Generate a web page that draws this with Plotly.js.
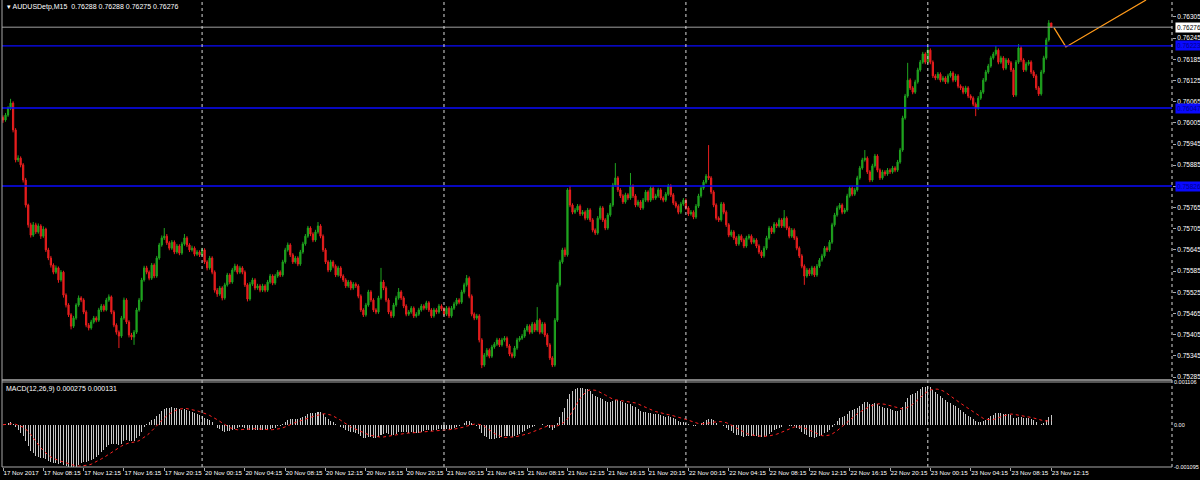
<!DOCTYPE html>
<html><head><meta charset="utf-8">
<script src="https://cdn.plot.ly/plotly-3.0.1.min.js"></script>
<style>html,body{margin:0;padding:0;background:#000;}#chart{width:1200px;height:480px;}</style>
</head><body><div id="chart"></div>
<script>
const symbol = 'AUDUSDetp,M15';
// M15 bars, 17 Nov 2017 04:15 .. 23 Nov 2017 12:15 (bar number = position)
const open = [
0.76020,0.76013,0.76027,0.76047,0.76061,0.75985,0.75900,0.75905,0.75886,0.75843,
0.75772,0.75716,0.75687,0.75716,0.75696,0.75713,0.75684,0.75704,0.75645,0.75622,
0.75602,0.75582,0.75594,0.75560,0.75582,0.75517,0.75489,0.75461,0.75429,0.75452,
0.75489,0.75509,0.75503,0.75469,0.75432,0.75424,0.75441,0.75452,0.75446,0.75475,
0.75486,0.75475,0.75503,0.75512,0.75469,0.75432,0.75412,0.75401,0.75452,0.75503,
0.75441,0.75404,0.75398,0.75412,0.75475,0.75503,0.75560,0.75594,0.75582,0.75565,
0.75602,0.75571,0.75622,0.75659,0.75679,0.75684,0.75665,0.75650,0.75667,0.75639,
0.75656,0.75636,0.75662,0.75679,0.75659,0.75645,0.75650,0.75633,0.75639,0.75631,
0.75645,0.75611,0.75594,0.75622,0.75582,0.75531,0.75520,0.75537,0.75509,0.75546,
0.75574,0.75554,0.75588,0.75599,0.75582,0.75594,0.75582,0.75546,0.75506,0.75548,
0.75560,0.75537,0.75543,0.75531,0.75543,0.75531,0.75554,0.75571,0.75551,0.75571,
0.75582,0.75574,0.75611,0.75645,0.75659,0.75631,0.75611,0.75622,0.75605,0.75639,
0.75662,0.75684,0.75707,0.75690,0.75673,0.75696,0.75713,0.75684,0.75645,0.75611,
0.75588,0.75611,0.75599,0.75574,0.75594,0.75571,0.75560,0.75543,0.75554,0.75537,
0.75548,0.75543,0.75514,0.75475,0.75461,0.75489,0.75526,0.75503,0.75475,0.75469,
0.75509,0.75554,0.75537,0.75503,0.75469,0.75458,0.75489,0.75509,0.75526,0.75509,
0.75486,0.75463,0.75469,0.75480,0.75458,0.75463,0.75475,0.75486,0.75480,0.75495,
0.75475,0.75458,0.75475,0.75469,0.75486,0.75478,0.75463,0.75480,0.75458,0.75480,
0.75492,0.75503,0.75497,0.75526,0.75546,0.75565,0.75514,0.75463,0.75452,0.75458,
0.75390,0.75319,0.75347,0.75361,0.75344,0.75370,0.75378,0.75390,0.75376,0.75390,
0.75395,0.75373,0.75350,0.75344,0.75367,0.75390,0.75395,0.75401,0.75418,0.75429,
0.75412,0.75435,0.75418,0.75446,0.75412,0.75435,0.75404,0.75376,0.75339,0.75319,
0.75446,0.75546,0.75611,0.75645,0.75631,0.75815,0.75772,0.75752,0.75758,0.75769,
0.75747,0.75752,0.75735,0.75758,0.75730,0.75701,0.75693,0.75735,0.75764,0.75730,
0.75707,0.75744,0.75772,0.75829,0.75849,0.75815,0.75798,0.75781,0.75801,0.75792,
0.75826,0.75798,0.75772,0.75781,0.75764,0.75786,0.75809,0.75786,0.75820,0.75792,
0.75798,0.75815,0.75792,0.75786,0.75803,0.75826,0.75801,0.75778,0.75769,0.75752,
0.75775,0.75786,0.75764,0.75747,0.75752,0.75738,0.75769,0.75798,0.75820,0.75837,
0.75854,0.75849,0.75809,0.75772,0.75735,0.75730,0.75775,0.75752,0.75716,0.75687,
0.75696,0.75679,0.75662,0.75684,0.75673,0.75656,0.75679,0.75684,0.75667,0.75673,
0.75656,0.75639,0.75628,0.75650,0.75679,0.75707,0.75696,0.75718,0.75713,0.75730,
0.75713,0.75735,0.75707,0.75684,0.75701,0.75679,0.75650,0.75628,0.75599,0.75571,
0.75588,0.75577,0.75594,0.75574,0.75599,0.75616,0.75628,0.75650,0.75645,0.75667,
0.75716,0.75744,0.75764,0.75772,0.75752,0.75758,0.75798,0.75820,0.75803,0.75815,
0.75849,0.75877,0.75900,0.75905,0.75866,0.75843,0.75883,0.75911,0.75871,0.75849,
0.75866,0.75860,0.75871,0.75866,0.75877,0.75871,0.75894,0.75928,0.76019,0.76081,
0.76126,0.76104,0.76092,0.76121,0.76155,0.76177,0.76200,0.76177,0.76211,0.76177,
0.76138,0.76132,0.76143,0.76126,0.76132,0.76121,0.76138,0.76146,0.76126,0.76138,
0.76109,0.76104,0.76092,0.76104,0.76081,0.76075,0.76058,0.76047,0.76075,0.76092,
0.76126,0.76149,0.76166,0.76189,0.76200,0.76211,0.76177,0.76189,0.76160,0.76183,
0.76175,0.76155,0.76084,0.76177,0.76217,0.76183,0.76155,0.76172,0.76177,0.76149,
0.76138,0.76104,0.76087,0.76149,0.76189,0.76240,0.76288];
const high = [
0.76026,0.76033,0.76052,0.76073,0.76066,0.75990,0.75913,0.75910,0.75891,0.75849,
0.75776,0.75722,0.75724,0.75722,0.75720,0.75718,0.75712,0.75708,0.75651,0.75628,
0.75607,0.75601,0.75598,0.75588,0.75586,0.75522,0.75494,0.75466,0.75458,0.75494,
0.75516,0.75514,0.75508,0.75474,0.75438,0.75447,0.75458,0.75457,0.75481,0.75492,
0.75491,0.75509,0.75519,0.75516,0.75474,0.75437,0.75417,0.75458,0.75510,0.75508,
0.75446,0.75410,0.75418,0.75481,0.75509,0.75566,0.75600,0.75600,0.75587,0.75608,
0.75607,0.75628,0.75665,0.75686,0.75707,0.75690,0.75670,0.75673,0.75672,0.75662,
0.75661,0.75668,0.75690,0.75684,0.75664,0.75657,0.75655,0.75645,0.75644,0.75651,
0.75650,0.75616,0.75628,0.75627,0.75587,0.75537,0.75543,0.75542,0.75552,0.75580,
0.75579,0.75594,0.75606,0.75604,0.75600,0.75599,0.75587,0.75551,0.75554,0.75566,
0.75565,0.75549,0.75548,0.75549,0.75548,0.75560,0.75577,0.75576,0.75577,0.75588,
0.75587,0.75617,0.75651,0.75666,0.75664,0.75636,0.75628,0.75627,0.75645,0.75668,
0.75690,0.75713,0.75712,0.75695,0.75702,0.75724,0.75718,0.75689,0.75650,0.75616,
0.75617,0.75616,0.75604,0.75600,0.75599,0.75576,0.75565,0.75560,0.75559,0.75554,
0.75553,0.75548,0.75519,0.75480,0.75495,0.75532,0.75531,0.75508,0.75480,0.75515,
0.75594,0.75560,0.75542,0.75508,0.75474,0.75495,0.75515,0.75537,0.75531,0.75514,
0.75491,0.75475,0.75486,0.75485,0.75469,0.75481,0.75492,0.75491,0.75501,0.75500,
0.75480,0.75481,0.75480,0.75492,0.75491,0.75483,0.75486,0.75485,0.75486,0.75498,
0.75509,0.75508,0.75532,0.75552,0.75574,0.75570,0.75519,0.75468,0.75464,0.75463,
0.75395,0.75353,0.75367,0.75366,0.75376,0.75384,0.75396,0.75395,0.75396,0.75401,
0.75400,0.75378,0.75355,0.75373,0.75396,0.75401,0.75407,0.75424,0.75435,0.75434,
0.75441,0.75440,0.75483,0.75451,0.75441,0.75440,0.75409,0.75381,0.75344,0.75452,
0.75552,0.75617,0.75651,0.75652,0.75820,0.75826,0.75777,0.75764,0.75775,0.75774,
0.75758,0.75757,0.75764,0.75763,0.75735,0.75706,0.75741,0.75770,0.75769,0.75735,
0.75750,0.75778,0.75835,0.75891,0.75854,0.75820,0.75803,0.75807,0.75806,0.75863,
0.75831,0.75803,0.75787,0.75786,0.75792,0.75815,0.75814,0.75826,0.75825,0.75804,
0.75821,0.75820,0.75797,0.75809,0.75832,0.75831,0.75806,0.75783,0.75774,0.75781,
0.75792,0.75791,0.75769,0.75758,0.75757,0.75775,0.75804,0.75826,0.75843,0.75860,
0.75942,0.75854,0.75814,0.75777,0.75740,0.75781,0.75780,0.75757,0.75721,0.75702,
0.75701,0.75684,0.75690,0.75689,0.75678,0.75685,0.75690,0.75689,0.75679,0.75678,
0.75661,0.75644,0.75656,0.75685,0.75713,0.75712,0.75724,0.75723,0.75736,0.75735,
0.75758,0.75740,0.75712,0.75707,0.75706,0.75684,0.75655,0.75633,0.75604,0.75594,
0.75593,0.75600,0.75599,0.75605,0.75622,0.75634,0.75656,0.75655,0.75673,0.75722,
0.75750,0.75770,0.75778,0.75777,0.75764,0.75804,0.75826,0.75825,0.75821,0.75855,
0.75883,0.75906,0.75928,0.75910,0.75871,0.75889,0.75917,0.75916,0.75876,0.75872,
0.75871,0.75877,0.75876,0.75883,0.75882,0.75900,0.75934,0.76025,0.76087,0.76175,
0.76131,0.76109,0.76127,0.76161,0.76183,0.76206,0.76205,0.76223,0.76216,0.76182,
0.76143,0.76149,0.76148,0.76138,0.76137,0.76144,0.76152,0.76151,0.76144,0.76143,
0.76114,0.76109,0.76110,0.76109,0.76086,0.76080,0.76063,0.76081,0.76098,0.76132,
0.76155,0.76172,0.76195,0.76206,0.76223,0.76216,0.76195,0.76194,0.76189,0.76188,
0.76180,0.76160,0.76183,0.76228,0.76222,0.76188,0.76178,0.76183,0.76182,0.76154,
0.76143,0.76109,0.76155,0.76195,0.76246,0.76296,0.76288];
const low = [
0.76005,0.76008,0.76022,0.76041,0.75978,0.75893,0.75894,0.75879,0.75836,0.75765,
0.75708,0.75680,0.75682,0.75690,0.75691,0.75676,0.75679,0.75639,0.75616,0.75595,
0.75576,0.75577,0.75552,0.75555,0.75510,0.75482,0.75455,0.75420,0.75424,0.75447,
0.75484,0.75497,0.75463,0.75426,0.75417,0.75419,0.75436,0.75440,0.75441,0.75469,
0.75470,0.75471,0.75498,0.75463,0.75426,0.75405,0.75367,0.75396,0.75447,0.75435,
0.75397,0.75390,0.75376,0.75407,0.75470,0.75498,0.75555,0.75576,0.75559,0.75560,
0.75565,0.75566,0.75617,0.75654,0.75673,0.75659,0.75644,0.75645,0.75633,0.75634,
0.75630,0.75631,0.75657,0.75653,0.75639,0.75640,0.75627,0.75628,0.75625,0.75626,
0.75605,0.75587,0.75589,0.75576,0.75524,0.75512,0.75515,0.75502,0.75504,0.75541,
0.75548,0.75549,0.75583,0.75576,0.75577,0.75576,0.75540,0.75499,0.75501,0.75543,
0.75531,0.75532,0.75525,0.75526,0.75525,0.75526,0.75549,0.75545,0.75546,0.75566,
0.75568,0.75569,0.75606,0.75640,0.75625,0.75605,0.75606,0.75599,0.75600,0.75634,
0.75657,0.75679,0.75684,0.75667,0.75668,0.75691,0.75678,0.75639,0.75605,0.75582,
0.75583,0.75593,0.75568,0.75569,0.75565,0.75554,0.75537,0.75538,0.75531,0.75532,
0.75537,0.75508,0.75469,0.75455,0.75456,0.75484,0.75497,0.75469,0.75463,0.75464,
0.75504,0.75531,0.75497,0.75463,0.75452,0.75453,0.75484,0.75504,0.75503,0.75480,
0.75457,0.75458,0.75464,0.75452,0.75453,0.75458,0.75470,0.75474,0.75475,0.75469,
0.75452,0.75453,0.75463,0.75464,0.75472,0.75457,0.75458,0.75452,0.75453,0.75475,
0.75487,0.75491,0.75492,0.75521,0.75541,0.75508,0.75457,0.75446,0.75447,0.75383,
0.75310,0.75314,0.75342,0.75338,0.75339,0.75365,0.75373,0.75370,0.75371,0.75385,
0.75367,0.75344,0.75338,0.75339,0.75362,0.75385,0.75390,0.75396,0.75413,0.75406,
0.75407,0.75412,0.75413,0.75406,0.75407,0.75398,0.75370,0.75333,0.75313,0.75314,
0.75441,0.75541,0.75606,0.75625,0.75626,0.75766,0.75746,0.75747,0.75753,0.75741,
0.75742,0.75729,0.75730,0.75724,0.75695,0.75687,0.75688,0.75730,0.75724,0.75701,
0.75702,0.75739,0.75767,0.75824,0.75809,0.75792,0.75775,0.75776,0.75786,0.75787,
0.75792,0.75766,0.75767,0.75758,0.75759,0.75781,0.75780,0.75781,0.75786,0.75787,
0.75793,0.75786,0.75780,0.75781,0.75798,0.75795,0.75772,0.75763,0.75746,0.75747,
0.75770,0.75758,0.75741,0.75742,0.75732,0.75733,0.75764,0.75793,0.75815,0.75832,
0.75843,0.75803,0.75766,0.75729,0.75724,0.75725,0.75746,0.75710,0.75681,0.75682,
0.75673,0.75656,0.75657,0.75667,0.75650,0.75651,0.75674,0.75661,0.75662,0.75650,
0.75633,0.75622,0.75623,0.75645,0.75674,0.75690,0.75691,0.75707,0.75708,0.75707,
0.75708,0.75701,0.75678,0.75679,0.75673,0.75644,0.75622,0.75593,0.75546,0.75566,
0.75571,0.75572,0.75568,0.75569,0.75594,0.75611,0.75623,0.75639,0.75640,0.75662,
0.75711,0.75739,0.75759,0.75746,0.75747,0.75753,0.75793,0.75797,0.75798,0.75810,
0.75844,0.75872,0.75895,0.75860,0.75837,0.75838,0.75878,0.75865,0.75843,0.75844,
0.75854,0.75855,0.75860,0.75861,0.75865,0.75866,0.75889,0.75923,0.76014,0.76076,
0.76098,0.76086,0.76087,0.76116,0.76150,0.76172,0.76171,0.76172,0.76171,0.76132,
0.76126,0.76127,0.76120,0.76121,0.76115,0.76116,0.76133,0.76120,0.76121,0.76103,
0.76098,0.76086,0.76087,0.76075,0.76069,0.76052,0.76024,0.76042,0.76070,0.76087,
0.76121,0.76144,0.76161,0.76184,0.76195,0.76171,0.76172,0.76154,0.76155,0.76169,
0.76149,0.76078,0.76079,0.76172,0.76177,0.76149,0.76150,0.76167,0.76143,0.76132,
0.76098,0.76081,0.76082,0.76144,0.76184,0.76235,0.76275];
const close = [
0.76013,0.76027,0.76047,0.76061,0.75985,0.75900,0.75905,0.75886,0.75843,0.75772,
0.75716,0.75687,0.75716,0.75696,0.75713,0.75684,0.75704,0.75645,0.75622,0.75602,
0.75582,0.75594,0.75560,0.75582,0.75517,0.75489,0.75461,0.75429,0.75452,0.75489,
0.75509,0.75503,0.75469,0.75432,0.75424,0.75441,0.75452,0.75446,0.75475,0.75486,
0.75475,0.75503,0.75512,0.75469,0.75432,0.75412,0.75401,0.75452,0.75503,0.75441,
0.75404,0.75398,0.75412,0.75475,0.75503,0.75560,0.75594,0.75582,0.75565,0.75602,
0.75571,0.75622,0.75659,0.75679,0.75684,0.75665,0.75650,0.75667,0.75639,0.75656,
0.75636,0.75662,0.75679,0.75659,0.75645,0.75650,0.75633,0.75639,0.75631,0.75645,
0.75611,0.75594,0.75622,0.75582,0.75531,0.75520,0.75537,0.75509,0.75546,0.75574,
0.75554,0.75588,0.75599,0.75582,0.75594,0.75582,0.75546,0.75506,0.75548,0.75560,
0.75537,0.75543,0.75531,0.75543,0.75531,0.75554,0.75571,0.75551,0.75571,0.75582,
0.75574,0.75611,0.75645,0.75659,0.75631,0.75611,0.75622,0.75605,0.75639,0.75662,
0.75684,0.75707,0.75690,0.75673,0.75696,0.75713,0.75684,0.75645,0.75611,0.75588,
0.75611,0.75599,0.75574,0.75594,0.75571,0.75560,0.75543,0.75554,0.75537,0.75548,
0.75543,0.75514,0.75475,0.75461,0.75489,0.75526,0.75503,0.75475,0.75469,0.75509,
0.75554,0.75537,0.75503,0.75469,0.75458,0.75489,0.75509,0.75526,0.75509,0.75486,
0.75463,0.75469,0.75480,0.75458,0.75463,0.75475,0.75486,0.75480,0.75495,0.75475,
0.75458,0.75475,0.75469,0.75486,0.75478,0.75463,0.75480,0.75458,0.75480,0.75492,
0.75503,0.75497,0.75526,0.75546,0.75565,0.75514,0.75463,0.75452,0.75458,0.75390,
0.75319,0.75347,0.75361,0.75344,0.75370,0.75378,0.75390,0.75376,0.75390,0.75395,
0.75373,0.75350,0.75344,0.75367,0.75390,0.75395,0.75401,0.75418,0.75429,0.75412,
0.75435,0.75418,0.75446,0.75412,0.75435,0.75404,0.75376,0.75339,0.75319,0.75446,
0.75546,0.75611,0.75645,0.75631,0.75815,0.75772,0.75752,0.75758,0.75769,0.75747,
0.75752,0.75735,0.75758,0.75730,0.75701,0.75693,0.75735,0.75764,0.75730,0.75707,
0.75744,0.75772,0.75829,0.75849,0.75815,0.75798,0.75781,0.75801,0.75792,0.75826,
0.75798,0.75772,0.75781,0.75764,0.75786,0.75809,0.75786,0.75820,0.75792,0.75798,
0.75815,0.75792,0.75786,0.75803,0.75826,0.75801,0.75778,0.75769,0.75752,0.75775,
0.75786,0.75764,0.75747,0.75752,0.75738,0.75769,0.75798,0.75820,0.75837,0.75854,
0.75849,0.75809,0.75772,0.75735,0.75730,0.75775,0.75752,0.75716,0.75687,0.75696,
0.75679,0.75662,0.75684,0.75673,0.75656,0.75679,0.75684,0.75667,0.75673,0.75656,
0.75639,0.75628,0.75650,0.75679,0.75707,0.75696,0.75718,0.75713,0.75730,0.75713,
0.75735,0.75707,0.75684,0.75701,0.75679,0.75650,0.75628,0.75599,0.75571,0.75588,
0.75577,0.75594,0.75574,0.75599,0.75616,0.75628,0.75650,0.75645,0.75667,0.75716,
0.75744,0.75764,0.75772,0.75752,0.75758,0.75798,0.75820,0.75803,0.75815,0.75849,
0.75877,0.75900,0.75905,0.75866,0.75843,0.75883,0.75911,0.75871,0.75849,0.75866,
0.75860,0.75871,0.75866,0.75877,0.75871,0.75894,0.75928,0.76019,0.76081,0.76126,
0.76104,0.76092,0.76121,0.76155,0.76177,0.76200,0.76177,0.76211,0.76177,0.76138,
0.76132,0.76143,0.76126,0.76132,0.76121,0.76138,0.76146,0.76126,0.76138,0.76109,
0.76104,0.76092,0.76104,0.76081,0.76075,0.76058,0.76047,0.76075,0.76092,0.76126,
0.76149,0.76166,0.76189,0.76200,0.76211,0.76177,0.76189,0.76160,0.76183,0.76175,
0.76155,0.76084,0.76177,0.76217,0.76183,0.76155,0.76172,0.76177,0.76149,0.76138,
0.76104,0.76087,0.76149,0.76189,0.76240,0.76288,0.76276];

const timeTickBars = [0,16,32,48,64,80,96,112,128,144,160,176,192,208,224,240,256,272,288,304,320,336,352,368,384,400,416];
const timeTickLabels = ['17 Nov 2017','17 Nov 08:15','17 Nov 12:15','17 Nov 16:15','17 Nov 20:15',
 '20 Nov 00:15','20 Nov 04:15','20 Nov 08:15','20 Nov 12:15','20 Nov 16:15','20 Nov 20:15',
 '21 Nov 00:15','21 Nov 04:15','21 Nov 08:15','21 Nov 12:15','21 Nov 16:15','21 Nov 20:15',
 '22 Nov 00:15','22 Nov 04:15','22 Nov 08:15','22 Nov 12:15','22 Nov 16:15','22 Nov 20:15',
 '23 Nov 00:15','23 Nov 04:15','23 Nov 08:15','23 Nov 12:15'];
const dayStartBars = [79,175,271,367];
const priceTicks = [0.76305,0.76245,0.76185,0.76125,0.76065,0.76005,0.75945,0.75885,0.75825,
 0.75765,0.75705,0.75645,0.75585,0.75525,0.75465,0.75405,0.75345,0.75285];
const priceWindow = [0.752765,0.76353];
const levels = [0.76223,0.76047,0.75826];
const bidPrice = 0.76276;
const macdTicks = [0.001106,0,-0.001095];
const macdTickLabels = ['0.001106','0.00','-0.001095'];
const macdParams = [12,26,9];
const macdHeaderValues = [0.000275,0.000131];
const projectionBars = [417.1,421.8,453.6];
const projectionPrices = [0.76274,0.76220,0.76353];

// MACD (12,26,9) as in MT4: EMA(12)-EMA(26) of close, signal = SMA(9) of MACD
function ema(src,n){const a=2/(n+1);const out=[];src.forEach((v,i)=>out.push(i?a*v+(1-a)*out[i-1]:v));return out;}
const e1=ema(close,macdParams[0]), e2=ema(close,macdParams[1]);
const macd=close.map((_,i)=>e1[i]-e2[i]);
const signal=macd.map((_,i)=>{const s=Math.max(0,i-macdParams[2]+1);const w=macd.slice(s,i+1);return w.reduce((a,b)=>a+b,0)/w.length;});
const bars=close.map((_,i)=>i);

const GREEN='#1fa31f', RED='#e81e1e', GRID='#a8a8a8';
const mainBottom=87/467, macdTop=85/467;
const last=close.length-1;

const traces=[
 {type:'candlestick',x:bars,open:open,high:high,low:low,close:close,xaxis:'x',yaxis:'y',
  increasing:{line:{color:GREEN,width:1},fillcolor:GREEN},
  decreasing:{line:{color:RED,width:1},fillcolor:RED},
  whiskerwidth:0,hoverinfo:'skip'},
 {type:'scatter',mode:'lines',x:projectionBars,y:projectionPrices,xaxis:'x',yaxis:'y',
  line:{color:'#ff9a1a',width:1.3},hoverinfo:'skip'},
 {type:'bar',x:bars,y:macd,xaxis:'x',yaxis:'y2',width:0.4,
  marker:{color:'#c8c8c8',line:{width:0}},hoverinfo:'skip'},
 {type:'scatter',mode:'lines',x:bars,y:signal,xaxis:'x',yaxis:'y2',
  line:{color:'#ff2020',width:1,dash:'dot'},hoverinfo:'skip'}
];

const shapes=[];
levels.forEach(p=>shapes.push({type:'line',xref:'paper',x0:0,x1:1,yref:'y',y0:p,y1:p,line:{color:'#0a0aff',width:1.4}}));
shapes.push({type:'line',xref:'paper',x0:0,x1:1,yref:'y',y0:bidPrice,y1:bidPrice,line:{color:'#a0a0a0',width:1}});
dayStartBars.forEach(b=>shapes.push({type:'line',xref:'x',x0:b,x1:b,yref:'paper',y0:0,y1:1,line:{color:'#d8d8d8',width:1,dash:'dot'}}));
shapes.push({type:'line',xref:'paper',x0:1,x1:1,yref:'paper',y0:0,y1:1,line:{color:'#d8d8d8',width:1,dash:'dot'}});
// panel frames
shapes.push({type:'line',xref:'paper',x0:0,x1:0,yref:'paper',y0:0,y1:1,line:{color:GRID,width:1}});
shapes.push({type:'line',xref:'paper',x0:0,x1:1,yref:'paper',y0:mainBottom,y1:mainBottom,line:{color:GRID,width:1.5}});
shapes.push({type:'line',xref:'paper',x0:0,x1:1,yref:'paper',y0:macdTop,y1:macdTop,line:{color:GRID,width:1}});
shapes.push({type:'line',xref:'paper',x0:0,x1:1,yref:'paper',y0:0,y1:0,line:{color:GRID,width:1}});

const f=(v,d)=>v.toFixed(d);
const annotations=[
 {xref:'paper',yref:'paper',x:0,y:1,xanchor:'left',yanchor:'top',xshift:3,yshift:-1,showarrow:false,
  text:'\u25BE '+symbol+'  '+[open[last],high[last],low[last],close[last]].map(v=>f(v,5)).join(' '),
  font:{size:7,color:'#ffffff'}},
 {xref:'paper',yref:'paper',x:0,y:macdTop,xanchor:'left',yanchor:'top',xshift:2,yshift:-1,showarrow:false,
  text:'MACD('+macdParams.join(',')+') '+macdHeaderValues.map(v=>f(v,6)).join(' '),
  font:{size:7,color:'#ffffff'}}
];
levels.forEach(p=>annotations.push({xref:'paper',yref:'y',x:1,y:p,xanchor:'left',yanchor:'middle',xshift:3,showarrow:false,
  text:f(p,5),bgcolor:'#0a0aff',borderpad:1,font:{size:6.5,color:'#00008a'}}));
annotations.push({xref:'paper',yref:'y',x:1,y:bidPrice,xanchor:'left',yanchor:'middle',xshift:3,showarrow:false,
  text:f(bidPrice,5),bgcolor:'#ffffff',borderpad:1,font:{size:6.5,color:'#000000'}});

const axFont={family:'Liberation Sans, Arial, sans-serif',size:6.5,color:'#ffffff'};
const layout={
 width:1200,height:480,paper_bgcolor:'#000',plot_bgcolor:'#000',
 margin:{l:2,r:28,t:0,b:13},showlegend:false,bargap:0,
 font:{family:'Liberation Sans, Arial, sans-serif',color:'#ffffff',size:7},
 xaxis:{range:[-0.4,463.9],anchor:'y2',showgrid:false,zeroline:false,showline:false,
  tickmode:'array',tickvals:timeTickBars,ticktext:timeTickLabels,ticks:'outside',ticklen:3,tickcolor:GRID,
  tickangle:0,tickfont:{family:'Liberation Sans, Arial, sans-serif',size:6.2,color:'#ffffff'},
  ticklabelposition:'outside right',ticklabelstandoff:0,rangeslider:{visible:false},fixedrange:true},
 yaxis:{domain:[mainBottom,1],range:priceWindow,side:'right',anchor:'x',showgrid:false,zeroline:false,
  tickmode:'array',tickvals:priceTicks,ticktext:priceTicks.map(v=>f(v,5)),ticks:'outside',ticklen:3,
  tickcolor:GRID,tickfont:axFont,fixedrange:true},
 yaxis2:{domain:[0,macdTop],range:[macdTicks[2],macdTicks[0]],side:'right',anchor:'x',showgrid:false,zeroline:false,
  tickmode:'array',tickvals:macdTicks,ticktext:macdTickLabels,ticks:'',ticklabelstandoff:1,
  tickfont:{family:'Liberation Sans, Arial, sans-serif',size:5.5,color:'#ffffff'},fixedrange:true},
 shapes:shapes,annotations:annotations
};
Plotly.newPlot('chart',traces,layout,{displayModeBar:false,staticPlot:true});
</script></body></html>
